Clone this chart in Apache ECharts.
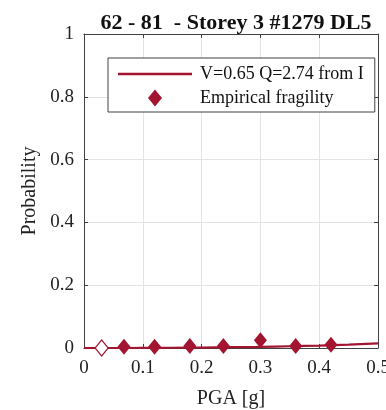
<!DOCTYPE html>
<html>
<head>
<meta charset="utf-8">
<script src="https://cdn.jsdelivr.net/npm/echarts@6/dist/echarts.min.js"></script>
<style>
  html, body { margin: 0; padding: 0; background: #fff; }
  #chart { width: 386px; height: 410px; }
</style>
</head>
<body>
<div id="chart"></div>
<script>
// Empirical fragility points (PGA in g, probability of exceedance)
const pgaEmpirical = [0.03, 0.068, 0.12, 0.18, 0.237, 0.30, 0.36, 0.42];
const probEmpirical = [0.0, 0.004, 0.004, 0.006, 0.006, 0.025, 0.006, 0.01];
// First bin has no recorded exceedance: drawn hollow
const hollowIndex = [0];

// Fitted fragility curve samples
const pgaCurve = [0, 0.05, 0.1, 0.15, 0.2, 0.25, 0.3, 0.35, 0.4, 0.45, 0.5];
const probCurve = [0, 0.0, 0.0003, 0.0008, 0.0015, 0.0025, 0.0038, 0.0055, 0.0077, 0.011, 0.015];

const xTicks = [0, 0.1, 0.2, 0.3, 0.4, 0.5];
const yTicks = [0, 0.2, 0.4, 0.6, 0.8, 1];

const titleText = '62 - 81  - Storey 3 #1279 DL5';
const curveName = 'V=0.65 Q=2.74 from I';
const pointsName = 'Empirical fragility';

const red = '#A2142F';
const frame = '#404040';
const gridGrey = '#e3e3e3';
const serif = '"Liberation Serif", "DejaVu Serif", serif';

// Legend icons: a long line sample, and a narrow diamond padded to the same
// 74px-wide box so it sits centred under the line sample.
const lineIcon = 'path://M0,0 L74,0 L74,2.4 L0,2.4 Z';
const diamondIcon = 'path://M0,0 M74,17 M37,0 L44,8.5 L37,17 L30,8.5 Z';

const chart = echarts.init(document.getElementById('chart'));

const curveData = pgaCurve.map((x, i) => [x, probCurve[i]]);
const pointData = pgaEmpirical.map((x, i) => {
  const item = { value: [x, probEmpirical[i]] };
  if (hollowIndex.includes(i)) {
    item.itemStyle = { color: '#fff', borderColor: red, borderWidth: 1.2 };
  }
  return item;
});

const tickFmt = v => String(+v.toFixed(2));

const frameAxis = {
  axisLine: { show: true, onZero: false, lineStyle: { color: frame, width: 1 } },
  axisTick: { show: true, inside: true, length: 4, lineStyle: { color: frame } }
};

chart.setOption({
  animation: false,
  backgroundColor: '#fff',
  title: {
    text: titleText,
    left: 231,
    top: 7,
    textAlign: 'center',
    textStyle: { fontFamily: serif, fontWeight: 'bold', fontSize: 22, color: '#111' }
  },
  grid: {
    left: 84, right: 8, top: 34, bottom: 62,
    containLabel: false,
    outerBoundsMode: 'none'
  },
  legend: {
    orient: 'vertical',
    left: 108,
    top: 58,
    padding: [7, 11, 5, 10],
    itemGap: 6,
    itemWidth: 74,
    itemHeight: 17,
    backgroundColor: '#fff',
    borderColor: frame,
    borderWidth: 1,
    borderRadius: 0,
    textStyle: { fontFamily: serif, fontSize: 18, lineHeight: 17, color: '#111', padding: [0, 0, 0, 3] },
    data: [
      { name: curveName, icon: lineIcon, itemStyle: { color: red } },
      { name: pointsName, icon: diamondIcon, itemStyle: { color: red } }
    ]
  },
  xAxis: [
    Object.assign({
      type: 'value',
      position: 'bottom',
      min: 0, max: 0.5, interval: 0.1,
      name: 'PGA [g]',
      nameLocation: 'middle',
      nameGap: 41,
      nameTextStyle: { fontFamily: serif, fontSize: 20, color: '#222' },
      axisLabel: { fontFamily: serif, fontSize: 19, color: '#222', margin: 11, formatter: tickFmt },
      splitLine: { show: true, lineStyle: { color: gridGrey, width: 1 } }
    }, frameAxis),
    Object.assign({
      type: 'value',
      position: 'top',
      min: 0, max: 0.5, interval: 0.1,
      axisLabel: { show: false },
      splitLine: { show: false }
    }, frameAxis)
  ],
  yAxis: [
    Object.assign({
      type: 'value',
      position: 'left',
      min: 0, max: 1, interval: 0.2,
      name: 'Probability',
      nameLocation: 'middle',
      nameGap: 44,
      nameTextStyle: { fontFamily: serif, fontSize: 20, color: '#222' },
      axisLabel: { fontFamily: serif, fontSize: 19, color: '#222', margin: 10, formatter: tickFmt },
      splitLine: { show: true, lineStyle: { color: gridGrey, width: 1 } }
    }, frameAxis),
    Object.assign({
      type: 'value',
      position: 'right',
      min: 0, max: 1, interval: 0.2,
      axisLabel: { show: false },
      splitLine: { show: false }
    }, frameAxis)
  ],
  series: [
    {
      name: curveName,
      type: 'line',
      data: curveData,
      symbol: 'none',
      smooth: true,
      lineStyle: { color: red, width: 2.2 },
      itemStyle: { color: red },
      z: 3
    },
    {
      name: pointsName,
      type: 'scatter',
      data: pointData,
      symbol: 'diamond',
      symbolSize: [13, 16],
      itemStyle: { color: red, opacity: 1 },
      z: 4
    }
  ]
});
</script>
</body>
</html>
